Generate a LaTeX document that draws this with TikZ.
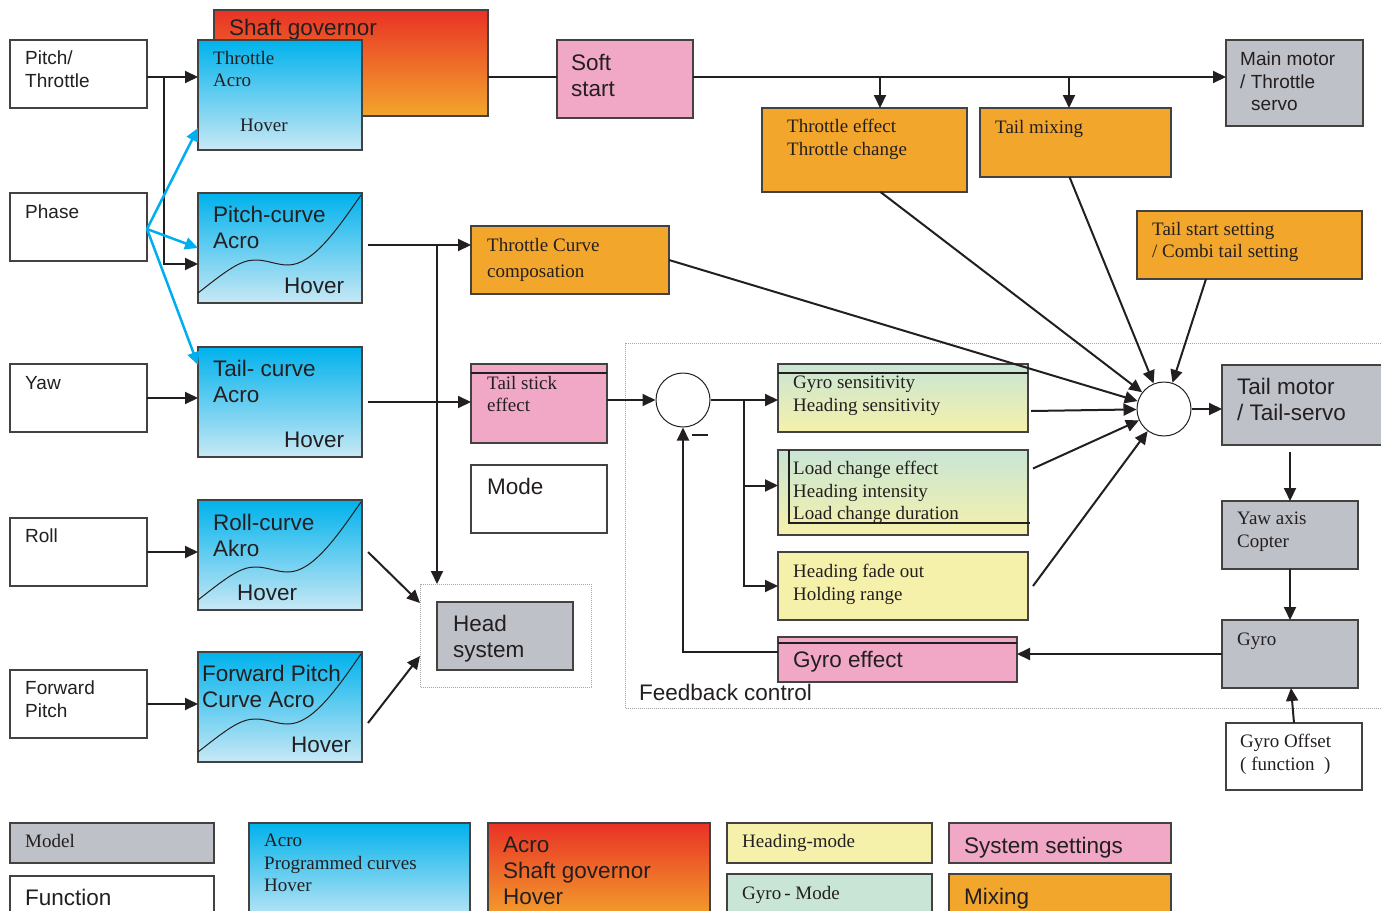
\documentclass[tikz,border=0pt]{standalone}
\usepackage{fontspec}
\setmainfont{Liberation Serif}
\setsansfont{Liberation Sans}
\usepackage{tikz}
\usetikzlibrary{positioning, arrows.meta}

\definecolor{sysPink}{RGB}{241,168,198}
\definecolor{mixOrange}{RGB}{243,166,44}
\definecolor{modelGray}{RGB}{191,193,200}
\definecolor{headYellow}{RGB}{246,241,170}
\definecolor{gyroMint}{RGB}{200,229,213}
\definecolor{curveBlue}{RGB}{0,178,236}
\definecolor{curvePale}{RGB}{200,232,245}
\definecolor{govRed}{RGB}{233,50,38}
\definecolor{lineBlue}{RGB}{0,174,239}
\definecolor{ink}{RGB}{35,31,32}

\begin{document}
\begin{tikzpicture}[x=1pt, y=-1pt]
    \tikzstyle{box} = [rectangle, draw=ink!85, line width=1.3pt, anchor=north west, inner sep=0pt, outer sep=0pt]
    \tikzstyle{inbox} = [box, fill=white, minimum width=137pt, minimum height=68pt]
    \tikzstyle{curvebox} = [box, top color=curveBlue, bottom color=curvePale, minimum width=164pt, minimum height=110pt]
    \tikzstyle{modelbox} = [box, fill=modelGray]
    \tikzstyle{mixbox} = [box, fill=mixOrange]
    \tikzstyle{sysbox} = [box, fill=sysPink]
    \tikzstyle{headbox} = [box, fill=headYellow]
    \tikzstyle{gyrobox} = [box, top color=gyroMint, bottom color=headYellow]
    \tikzstyle{govbox} = [box, top color=govRed, bottom color=mixOrange]
    \tikzstyle{groupbox} = [rectangle, draw=gray!70, densely dotted, line width=1pt, anchor=north west, inner sep=0pt]
    \tikzstyle{sumnode} = [circle, draw=ink, line width=1pt, fill=white, minimum size=54pt, inner sep=0pt]
    \tikzstyle{txt} = [anchor=north west, inner sep=0pt, align=left, text=ink]
    \tikzstyle{sanstxt} = [txt, font=\sffamily\fontsize{19}{22.5}\selectfont]
    \tikzstyle{bigtxt} = [txt, font=\sffamily\fontsize{22.5}{26}\selectfont]
    \tikzstyle{seriftxt} = [txt, font=\rmfamily\fontsize{19}{22.5}\selectfont]
    \tikzstyle{link} = [line width=2pt, draw=ink]
    \tikzstyle{arrow} = [link, ->, >={Triangle[length=13pt, width=12pt]}]
    \tikzstyle{phasearrow} = [arrow, draw=lineBlue, line width=2.5pt]

    \useasboundingbox (0,0) rectangle (1381,910);
    \clip (0,0) rectangle (1381,910);

    % groups
    \node[groupbox, minimum width=171pt, minimum height=103pt] (hsd) at (420,584) {};
    \node[groupbox, minimum width=780pt, minimum height=365pt] (fb) at (625,343) {};
    \node[bigtxt, anchor=south west, above right=8pt and 14pt of fb.south west] (fbl) {Feedback control};

    % stick inputs
    \node[inbox] (pt) at (10,40) {};
    \node[sanstxt, below right=11pt and 15pt of pt.north west] (pttx) {Pitch/\\Throttle};
    \node[inbox] (ph) at (10,193) {};
    \node[sanstxt, below right=12pt and 15pt of ph.north west] (phtx) {Phase};
    \node[inbox] (yw) at (10,364) {};
    \node[sanstxt, below right=12pt and 15pt of yw.north west] (ywtx) {Yaw};
    \node[inbox] (rl) at (10,518) {};
    \node[sanstxt, below right=11pt and 15pt of rl.north west] (rltx) {Roll};
    \node[inbox] (fw) at (10,670) {};
    \node[sanstxt, below right=11pt and 15pt of fw.north west] (fwtx) {Forward\\Pitch};

    % curves
    \node[govbox, minimum width=274pt, minimum height=106pt] (sg) at (214,10) {};
    \node[bigtxt, below right=9pt and 15pt of sg.north west] (sgtx) {Shaft governor};
    \node[curvebox] (thr) at (198,40) {};
    \node[seriftxt, below right=11pt and 15pt of thr.north west] (thrtx) {Throttle\\Acro};
    \node[seriftxt, below right=79pt and 42pt of thr.north west] (thrhv) {Hover};
    \node[curvebox] (pc) at (198,193) {};
    \node[curvebox] (tc) at (198,347) {};
    \node[curvebox] (rc) at (198,500) {};
    \node[curvebox] (fc) at (198,652) {};
    \foreach \b in {pc, rc, fc}
        \draw[ink, line width=1pt, shift={(\b.north west)}] (0,100) .. controls (28,78) and (42,67) .. (57,67) .. controls (70,67) and (78,72) .. (90,72) .. controls (115,72) and (140,35) .. (163,2);
    \node[bigtxt, below right=13pt and 15pt of pc.north west] (pctx) {Pitch-curve\\Acro};
    \node[bigtxt, below right=85pt and 86pt of pc.north west] (pchv) {Hover};
    \node[bigtxt, below right=13pt and 15pt of tc.north west] (tctx) {Tail- curve\\Acro};
    \node[bigtxt, below right=85pt and 86pt of tc.north west] (tchv) {Hover};
    \node[bigtxt, below right=14pt and 15pt of rc.north west] (rctx) {Roll-curve\\Akro};
    \node[bigtxt, below right=85pt and 39pt of rc.north west] (rchv) {Hover};
    \node[bigtxt, below right=13pt and 4pt of fc.north west] (fctx) {Forward Pitch\\Curve Acro};
    \node[bigtxt, below right=85pt and 93pt of fc.north west] (fchv) {Hover};

    % throttle side
    \node[sysbox, minimum width=136pt, minimum height=78pt] (ss) at (557,40) {};
    \node[bigtxt, below right=14pt and 14pt of ss.north west] (sstx) {Soft\\start};
    \node[mixbox, minimum width=205pt, minimum height=84pt] (te) at (762,108) {};
    \node[seriftxt, below right=11pt and 25pt of te.north west] (tetx) {Throttle effect\\Throttle change};
    \node[mixbox, minimum width=191pt, minimum height=69pt] (tm) at (980,108) {};
    \node[seriftxt, below right=12pt and 15pt of tm.north west] (tmtx) {Tail mixing};
    \node[modelbox, minimum width=137pt, minimum height=86pt] (mm) at (1226,40) {};
    \node[sanstxt, below right=12pt and 14pt of mm.north west] (mmtx) {Main motor\\/ Throttle\\\hspace*{11pt}servo};
    \node[mixbox, minimum width=198pt, minimum height=68pt] (tcc) at (471,226) {};
    \node[seriftxt, below right=12pt and 16pt of tcc.north west] (tcctx) {Throttle Curve\\[3.5pt]composation};
    \node[mixbox, minimum width=225pt, minimum height=68pt] (tss) at (1137,211) {};
    \node[seriftxt, below right=11pt and 15pt of tss.north west] (tsstx) {Tail start setting\\/ Combi tail setting};
    \node[sysbox, minimum width=136pt, minimum height=79pt] (tse) at (471,364) {};
    \draw[line width=2pt, ink] ([yshift=-9pt]tse.north west) -- ([yshift=-9pt]tse.north east);
    \node[seriftxt, below right=12pt and 16pt of tse.north west] (tsetx) {Tail stick\\effect};
    \node[box, fill=white, minimum width=136pt, minimum height=68pt] (mo) at (471,465) {};
    \node[bigtxt, below right=13pt and 16pt of mo.north west] (motx) {Mode};
    \node[modelbox, minimum width=136pt, minimum height=68pt] (hs) at (437,602) {};
    \node[bigtxt, below right=13pt and 16pt of hs.north west] (hstx) {Head\\system};

    % feedback control
    \node[sumnode] (s1) at (683,400) {};
    \draw[line width=2pt, ink] (692,435) -- (708,435);
    \node[gyrobox, minimum width=250pt, minimum height=68pt] (gs) at (778,364) {};
    \draw[line width=2pt, ink] ([yshift=-9pt]gs.north west) -- ([yshift=-9pt]gs.north east);
    \node[seriftxt, below right=12pt and 15pt of gs.north west] (gstx) {Gyro sensitivity\\Heading sensitivity};
    \node[gyrobox, minimum width=250pt, minimum height=85pt] (lc) at (778,450) {};
    \draw[line width=1.2pt, ink] ([xshift=11pt]lc.north west) |- ([shift={(2,-12)}]lc.south east);
    \node[seriftxt, below right=11pt and 15pt of lc.north west] (lctx) {Load change effect\\Heading intensity\\Load change duration};
    \node[headbox, minimum width=250pt, minimum height=68pt] (hf) at (778,552) {};
    \node[seriftxt, below right=12pt and 15pt of hf.north west] (hftx) {Heading fade out\\Holding range};
    \node[sysbox, minimum width=239pt, minimum height=45pt] (ge) at (778,637) {};
    \draw[line width=2pt, ink] ([yshift=-6pt]ge.north west) -- ([yshift=-6pt]ge.north east);
    \node[bigtxt, below right=14pt and 15pt of ge.north west] (getx) {Gyro effect};

    % tail side
    \node[sumnode] (s2) at (1164,409) {};
    \node[modelbox, minimum width=170pt, minimum height=80pt] (tmo) at (1222,365) {};
    \node[bigtxt, below right=13pt and 15pt of tmo.north west] (tmotx) {Tail motor\\/ Tail-servo};
    \node[modelbox, minimum width=136pt, minimum height=68pt] (ya) at (1222,501) {};
    \node[seriftxt, below right=11pt and 15pt of ya.north west] (yatx) {Yaw axis\\Copter};
    \node[modelbox, minimum width=136pt, minimum height=68pt] (gy) at (1222,620) {};
    \node[seriftxt, below right=13pt and 15pt of gy.north west] (gytx) {Gyro};
    \node[box, fill=white, minimum width=136pt, minimum height=67pt] (go) at (1226,723) {};
    \node[seriftxt, below right=11pt and 14pt of go.north west] (gotx) {Gyro Offset\\( function\enspace )};

    % legend
    \node[modelbox, minimum width=204pt, minimum height=40pt] (lmod) at (10,823) {};
    \node[seriftxt, below right=11pt and 15pt of lmod.north west] (lmodtx) {Model};
    \node[box, fill=white, minimum width=204pt, minimum height=50pt] (lfun) at (10,876) {};
    \node[bigtxt, below right=13pt and 15pt of lfun.north west] (lfuntx) {Function};
    \node[curvebox, minimum width=221pt, minimum height=100pt] (lcur) at (249,823) {};
    \node[seriftxt, below right=11pt and 15pt of lcur.north west] (lcurtx) {Acro\\Programmed curves\\Hover};
    \node[govbox, minimum width=222pt, minimum height=100pt] (lsg) at (488,823) {};
    \node[bigtxt, below right=14pt and 15pt of lsg.north west] (lsgtx) {Acro\\Shaft governor\\Hover};
    \node[headbox, minimum width=205pt, minimum height=40pt] (lhm) at (727,823) {};
    \node[seriftxt, below right=11pt and 15pt of lhm.north west] (lhmtx) {Heading-mode};
    \node[box, fill=gyroMint, minimum width=205pt, minimum height=50pt] (lgm) at (727,874) {};
    \node[seriftxt, below right=12pt and 15pt of lgm.north west] (lgmtx) {Gyro\,- Mode};
    \node[sysbox, minimum width=222pt, minimum height=40pt] (lsys) at (949,823) {};
    \node[bigtxt, below right=14pt and 15pt of lsys.north west] (lsystx) {System settings};
    \node[mixbox, minimum width=222pt, minimum height=50pt] (lmix) at (949,874) {};
    \node[bigtxt, below right=14pt and 15pt of lmix.north west] (lmixtx) {Mixing};

    % stick connections
    \coordinate (j1) at (164,77);
    \coordinate (j2) at (164,264);
    \draw[arrow] ([yshift=-3pt]pt.east) -- (j1 -| thr.west);
    \draw[arrow] (j1) -- (j2) -- (j2 -| pc.west);
    \draw[phasearrow] ([yshift=-2pt]ph.east) -- ([yshift=22pt]thr.south west);
    \draw[phasearrow] ([yshift=-2pt]ph.east) -- (pc.west);
    \draw[phasearrow] ([yshift=-2pt]ph.east) -- ([yshift=-18pt]tc.north west);
    \draw[arrow] (yw.east) -- (yw.east -| tc.west);
    \draw[arrow] (rl.east) -- (rl.east -| rc.west);
    \draw[arrow] (fw.east) -- (fw.east -| fc.west);

    % throttle bus
    \coordinate (b1) at (880,77);
    \coordinate (b2) at (1069,77);
    \draw[link] ([yshift=2pt]ss.west -| sg.east) -- ([yshift=2pt]ss.west);
    \draw[arrow] ([yshift=2pt]ss.east) -- ([yshift=2pt]ss.east -| mm.west);
    \draw[arrow] (b1) -- (b1 |- te.north);
    \draw[arrow] (b2) -- (b2 |- tm.north);

    % curves to mixing and head
    \coordinate (b3) at (437,245);
    \draw[arrow] ([xshift=6pt]pc.east |- b3) -- (b3 -| tcc.west);
    \draw[arrow] (b3) -- (b3 |- hsd.north);
    \draw[arrow] ([xshift=6pt]tc.east) -- (tc.east -| tse.west);
    \draw[arrow] ([xshift=6pt,yshift=3pt]rc.east) -- ([yshift=-19pt]hsd.north west);
    \draw[arrow] ([xshift=6pt,yshift=-16pt]fc.east) -- ([yshift=-20pt]hsd.west);

    % feedback loop
    \coordinate (b4) at (744,400);
    \draw[arrow] (tse.east |- s1) -- (s1);
    \draw[arrow] (s1) -- (s1 -| gs.west);
    \draw[arrow] (b4) |- ([yshift=7pt]lc.west);
    \draw[arrow] (b4) |- (hf.west);
    \draw[arrow] ([yshift=8pt]ge.west) -| (s1);
    \draw[arrow] (gy.west) -- (gy.west -| ge.east);

    % tail sum
    \draw[arrow] (tcc.east) -- (s2);
    \draw[arrow] ([xshift=16pt]te.south) -- (s2);
    \draw[arrow] ([xshift=-6pt]tm.south) -- (s2);
    \draw[arrow] ([xshift=69pt]tss.south west) -- (s2);
    \draw[arrow] ([xshift=3pt,yshift=-13pt]gs.east) -- (s2);
    \draw[arrow] ([xshift=5pt,yshift=24pt]lc.east) -- (s2);
    \draw[arrow] ([xshift=5pt]hf.east) -- (s2);
    \draw[arrow] (s2) -- (s2 -| tmo.west);
    \draw[arrow] ([yshift=-7pt]tmo.south -| ya.north) -- (ya.north);
    \draw[arrow] (ya.south) -- (gy.north);
    \draw[arrow] (go.north) -- ([xshift=1pt]gy.south);
\end{tikzpicture}
\end{document}
